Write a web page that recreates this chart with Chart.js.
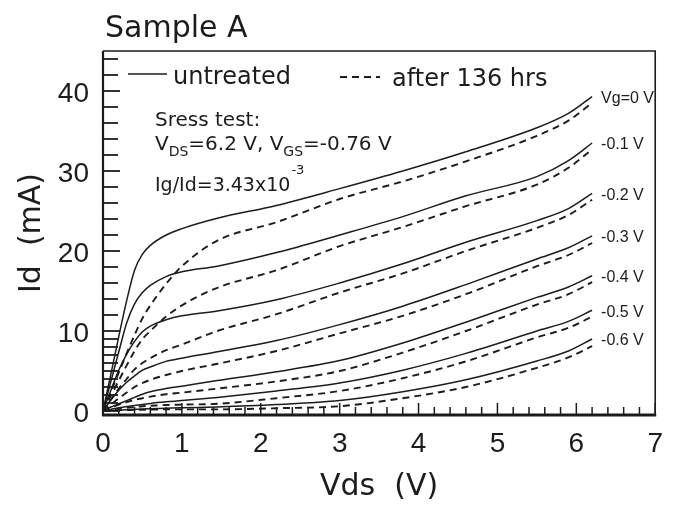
<!DOCTYPE html>
<html>
<head>
<meta charset="utf-8">
<script src="https://cdn.jsdelivr.net/npm/chart.js@4.4.1/dist/chart.umd.min.js"></script>
<style>
  html, body { margin: 0; padding: 0; background: #ffffff; }
  #wrap { width: 675px; height: 509px; position: relative; }
</style>
</head>
<body>
<div id="wrap"><canvas id="c" width="675" height="509"></canvas></div>
<script>
// ---- data ----
const vds = [0, 0.1, 0.2, 0.3, 0.4, 0.5, 0.6, 0.8, 1.0, 1.45, 2.2, 3.0, 3.8, 4.6, 5.5, 5.9, 6.2];

const gateLabels = ['Vg=0 V', '-0.1 V', '-0.2 V', '-0.3 V', '-0.4 V', '-0.5 V', '-0.6 V'];

// untreated (solid)
const untreatedVg0   = [0, 4.6, 9.3, 13.8, 17.6, 19.6, 20.7, 22.0, 22.8, 24.1, 25.7, 27.8, 30.0, 32.4, 35.4, 37.2, 39.3];
const untreatedVgM01 = [0, 3.7, 7.4, 11.0, 13.4, 14.8, 15.7, 16.8, 17.4, 18.1, 19.8, 22.0, 24.3, 26.9, 29.3, 31.3, 33.5];
const untreatedVgM02 = [0, 2.6, 5.1, 7.1, 8.7, 9.9, 10.6, 11.4, 11.9, 12.5, 13.9, 16.0, 18.4, 21.1, 23.8, 25.3, 27.2];
const untreatedVgM03 = [0, 1.4, 2.6, 3.6, 4.4, 5.1, 5.5, 6.2, 6.6, 7.4, 8.8, 10.8, 13.1, 15.8, 19.0, 20.4, 21.9];
const untreatedVgM04 = [0, 0.5, 0.9, 1.3, 1.7, 2.1, 2.4, 2.8, 3.1, 3.8, 4.9, 6.3, 8.5, 11.1, 14.2, 15.5, 16.9];
const untreatedVgM05 = [0, 0.2, 0.4, 0.55, 0.7, 0.8, 0.95, 1.15, 1.3, 1.7, 2.5, 3.5, 5.1, 7.2, 10.0, 11.2, 12.6];
const untreatedVgM06 = [0, 0.05, 0.1, 0.15, 0.2, 0.25, 0.28, 0.34, 0.4, 0.5, 0.8, 1.3, 2.4, 3.9, 6.25, 7.5, 9.0];

// after 136 hrs (dashed)
const stressedVg0   = [0, 2.4, 4.8, 7.2, 9.5, 11.6, 13.2, 15.9, 18.1, 21.3, 23.6, 26.5, 28.7, 31.2, 34.4, 36.3, 38.5];
const stressedVgM01 = [0, 1.9, 3.8, 5.7, 7.5, 9.0, 10.0, 11.8, 13.2, 15.4, 17.6, 20.6, 23.0, 25.6, 28.3, 30.4, 32.7];
const stressedVgM02 = [0, 1.4, 2.8, 4.0, 5.2, 6.0, 6.6, 7.6, 8.3, 10.0, 12.1, 14.8, 17.2, 20.0, 22.9, 24.5, 26.4];
const stressedVgM03 = [0, 0.8, 1.6, 2.3, 3.0, 3.5, 3.9, 4.5, 5.0, 5.9, 7.5, 9.7, 11.9, 14.6, 18.1, 19.5, 21.0];
const stressedVgM04 = [0, 0.4, 0.8, 1.1, 1.4, 1.6, 1.8, 2.1, 2.3, 2.8, 3.7, 5.0, 7.3, 10.0, 13.3, 14.6, 16.1];
const stressedVgM05 = [0, 0.15, 0.3, 0.4, 0.5, 0.6, 0.65, 0.75, 0.8, 0.9, 1.6, 2.5, 4.1, 6.2, 9.2, 10.4, 11.8];
const stressedVgM06 = [0, 0.05, 0.1, 0.12, 0.15, 0.15, 0.17, 0.2, 0.2, 0.2, 0.35, 0.6, 1.6, 3.0, 5.4, 6.7, 8.1];

const xTickLabels = [0, 1, 2, 3, 4, 5, 6, 7];
const yTickLabels = [0, 10, 20, 30, 40];

// ---- build datasets ----
const untreatedSeries = [untreatedVg0, untreatedVgM01, untreatedVgM02, untreatedVgM03, untreatedVgM04, untreatedVgM05, untreatedVgM06];
const stressedSeries  = [stressedVg0, stressedVgM01, stressedVgM02, stressedVgM03, stressedVgM04, stressedVgM05, stressedVgM06];
const INK = '#1c1c1c';

function toPoints(arr) { return arr.map((v, i) => ({ x: vds[i], y: v })); }

const datasets = [];
untreatedSeries.forEach((s, i) => datasets.push({
  label: 'untreated ' + gateLabels[i], data: toPoints(s),
  borderColor: INK, borderWidth: 1.5, pointRadius: 0, fill: false,
  cubicInterpolationMode: 'monotone'
}));
stressedSeries.forEach((s, i) => datasets.push({
  label: 'after 136 hrs ' + gateLabels[i], data: toPoints(s),
  borderColor: INK, borderWidth: 1.9, borderDash: [7, 5], pointRadius: 0, fill: false,
  cubicInterpolationMode: 'monotone'
}));

// ---- decorations plugin: frame, inside ticks, legend, annotation, gate labels ----
const decor = {
  id: 'decor',
  afterDraw(chart) {
    const { ctx, chartArea: a, scales: { x, y } } = chart;
    ctx.save();
    ctx.strokeStyle = INK;
    ctx.fillStyle = INK;
    ctx.lineCap = 'butt';

    // frame top + right
    ctx.lineWidth = 1.6;
    ctx.beginPath();
    ctx.moveTo(a.left, a.top); ctx.lineTo(a.right, a.top); ctx.lineTo(a.right, a.bottom);
    ctx.stroke();
    // left axis
    ctx.lineWidth = 2.2;
    ctx.beginPath(); ctx.moveTo(a.left, a.top); ctx.lineTo(a.left, a.bottom + 1); ctx.stroke();
    // bottom axis
    ctx.lineWidth = 3;
    ctx.beginPath(); ctx.moveTo(a.left - 1, a.bottom); ctx.lineTo(a.right + 1, a.bottom); ctx.stroke();

    // y ticks (inside)
    ctx.lineWidth = 1.8;
    for (let v = 0; v <= 44; v += 1) {
      if (v >= 10 && v % 2 === 1) continue;
      const py = y.getPixelForValue(v);
      const len = (v % 10 === 0) ? 17 : 15;
      ctx.beginPath(); ctx.moveTo(a.left, py); ctx.lineTo(a.left + len, py); ctx.stroke();
    }
    // x ticks (inside)
    ctx.lineWidth = 1.5;
    for (let i = 0; i <= 35; i++) {
      const px = x.getPixelForValue(i * 0.2);
      const len = (i % 5 === 0) ? 12 : 8;
      ctx.beginPath(); ctx.moveTo(px, a.bottom); ctx.lineTo(px, a.bottom - len); ctx.stroke();
    }

    // title
    ctx.textBaseline = 'alphabetic';
    ctx.textAlign = 'left';
    ctx.font = '30px "DejaVu Sans"';
    ctx.fillText('Sample A', 105, 37);

    // legend
    ctx.font = '24px "DejaVu Sans"';
    ctx.lineWidth = 1.6;
    ctx.setLineDash([]);
    ctx.beginPath(); ctx.moveTo(a.left + 25, 74); ctx.lineTo(a.left + 64, 74); ctx.stroke();
    ctx.fillText('untreated', a.left + 70, 84);
    ctx.lineWidth = 1.9;
    ctx.setLineDash([7, 5]);
    ctx.beginPath(); ctx.moveTo(340, 77); ctx.lineTo(380, 77); ctx.stroke();
    ctx.setLineDash([]);
    ctx.fillText('after 136 hrs', 392, 86);

    // stress-test annotation
    const big = '20px "DejaVu Sans"', sub = '14px "DejaVu Sans"';
    ctx.font = big;
    ctx.fillText('Sress test:', 155, 126);
    let cx = 155;
    const parts = [['V', big, 0], ['DS', sub, 6], ['=6.2 V, V', big, 0], ['GS', sub, 6], ['=-0.76 V', big, 0]];
    parts.forEach(([t, f, dy]) => { ctx.font = f; ctx.fillText(t, cx, 150 + dy); cx += ctx.measureText(t).width; });
    ctx.font = '19px "DejaVu Sans"';
    const t3 = 'Ig/Id=3.43x10';
    ctx.fillText(t3, 155, 191);
    const w3 = ctx.measureText(t3).width;
    ctx.font = '13px "DejaVu Sans"';
    ctx.fillText('-3', 155 + w3 + 1, 174);

    // gate-voltage labels at the end of each untreated curve
    ctx.font = '16px "Liberation Sans"';
    ctx.textBaseline = 'middle';
    untreatedSeries.forEach((s, i) => {
      const last = s.length - 1;
      const px = x.getPixelForValue(vds[last]);
      const py = y.getPixelForValue(s[last]);
      ctx.fillText(gateLabels[i], px + 9, py + 2);
    });
    ctx.restore();
  }
};

new Chart(document.getElementById('c'), {
  type: 'line',
  data: { datasets },
  plugins: [decor],
  options: {
    responsive: false,
    devicePixelRatio: 1,
    animation: false,
    layout: { padding: { top: 51, right: 19, left: 0, bottom: 0 } },
    plugins: { legend: { display: false }, tooltip: { enabled: false } },
    scales: {
      x: {
        type: 'linear', min: 0, max: 7,
        afterFit(s) { s.height = 94; },
        afterBuildTicks(s) { s.ticks = xTickLabels.map(v => ({ value: v })); },
        grid: { display: false, drawTicks: false },
        border: { display: false },
        ticks: { padding: 12, color: INK, font: { family: 'Liberation Sans', size: 28 }, maxRotation: 0, autoSkip: false },
        title: { display: true, text: 'Vds  (V)', color: INK, font: { family: 'DejaVu Sans', size: 30 }, padding: { top: 0, bottom: 4 } }
      },
      y: {
        type: 'linear', min: -0.5, max: 45,
        afterFit(s) { s.width = 103; },
        afterBuildTicks(s) { s.ticks = yTickLabels.map(v => ({ value: v })); },
        grid: { display: false, drawTicks: false },
        border: { display: false },
        ticks: { padding: 14, labelOffset: 3, color: INK, font: { family: 'Liberation Sans', size: 28 }, autoSkip: false },
        title: { display: true, text: 'Id  (mA)', color: INK, font: { family: 'DejaVu Sans', size: 30 }, padding: { top: 14, bottom: 0 } }
      }
    }
  }
});
</script>
</body>
</html>
